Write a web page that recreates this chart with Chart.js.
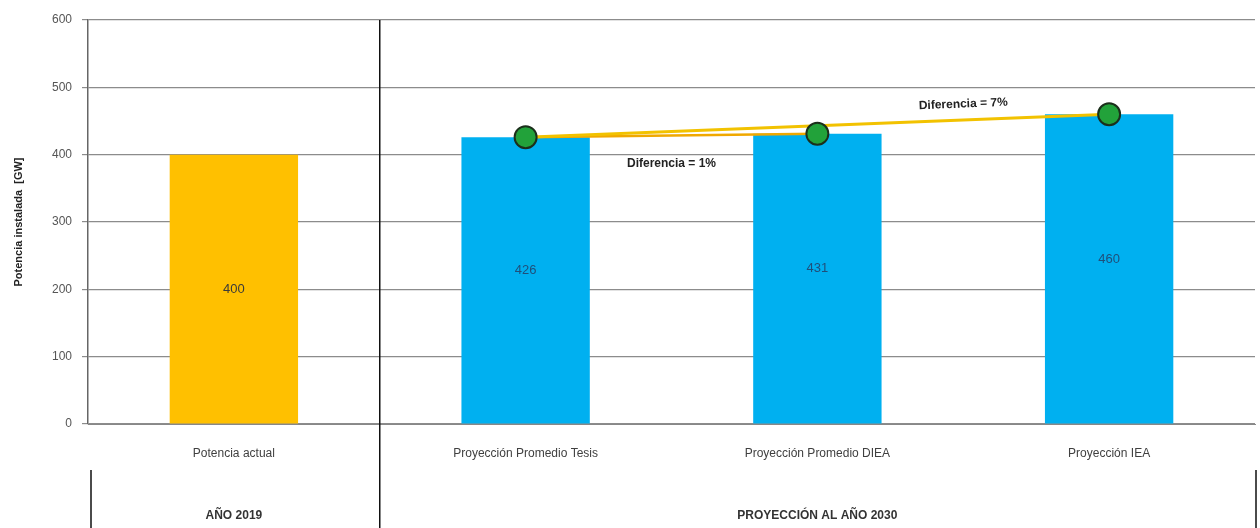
<!DOCTYPE html>
<html>
<head>
<meta charset="utf-8">
<script src="https://cdn.jsdelivr.net/npm/chart.js@4.4.1/dist/chart.umd.min.js"></script>
<style>
  html, body { margin: 0; padding: 0; background: #fff; }
  #wrap { width: 1260px; height: 528px; }
</style>
</head>
<body>
<div id="wrap"><canvas id="myChart" width="1260" height="528"></canvas></div>
<script>
Chart.defaults.font.family = "'Liberation Sans', Arial, sans-serif";
Chart.defaults.font.size = 12;
Chart.defaults.color = '#404040';

// data
const categories = ['Potencia actual', 'Proyección Promedio Tesis', 'Proyección Promedio DIEA', 'Proyección IEA'];
const potencia = [400, 426, 431, 460];
const puntos = [null, 426, 431, 460];
const lineaTesisIEA = [null, 426, null, 460];
const lineaTesisDIEA = [null, 426, 431, null];
const groups = ['AÑO 2019', 'PROYECCIÓN AL AÑO 2030'];
const yTicks = [0, 100, 200, 300, 400, 500, 600];
const diferencias = ['Diferencia = 1%', 'Diferencia = 7%'];

const barColors = ['#FFC000', '#00B0F0', '#00B0F0', '#00B0F0'];

// labels in the middle of bars, group labels, separators, notes
const extras = {
  id: 'extras',
  afterDatasetsDraw(chart) {
    const ctx = chart.ctx;
    const x = chart.scales.x, y = chart.scales.y;
    const area = chart.chartArea;
    ctx.save();
    // value labels
    ctx.font = "13px 'Liberation Sans', Arial";
    ctx.textAlign = 'center';
    ctx.textBaseline = 'middle';
    potencia.forEach((v, i) => {
      ctx.fillStyle = i === 0 ? '#3a3a3a' : '#1f4f7a';
      ctx.fillText(String(v), x.getPixelForValue(i), y.getPixelForValue(v / 2) - (i === 0 ? 0 : 10));
    });
    // differences
    ctx.font = "bold 12px 'Liberation Sans', Arial";
    ctx.fillStyle = '#222';
    ctx.fillText(diferencias[0], (x.getPixelForValue(1) + x.getPixelForValue(2)) / 2, y.getPixelForValue(386));
    ctx.save();
    ctx.translate(x.getPixelForValue(2.5), y.getPixelForValue(475));
    ctx.rotate(-0.04);
    ctx.fillText(diferencias[1], 0, 0);
    ctx.restore();

    // separators
    const sep = (x.getPixelForValue(0) + x.getPixelForValue(1)) / 2;
    ctx.strokeStyle = '#111';
    ctx.lineWidth = 1.5;
    ctx.beginPath();
    ctx.moveTo(sep, area.top);
    ctx.lineTo(sep, chart.height);
    ctx.moveTo(area.left + 3, chart.height - 58);
    ctx.lineTo(area.left + 3, chart.height);
    ctx.moveTo(chart.width - 4, chart.height - 58);
    ctx.lineTo(chart.width - 4, chart.height);
    ctx.stroke();

    // group labels
    ctx.font = "bold 12px 'Liberation Sans', Arial";
    ctx.fillStyle = '#333';
    ctx.fillText(groups[0], x.getPixelForValue(0), chart.height - 12);
    ctx.fillText(groups[1], x.getPixelForValue(2), chart.height - 12);
    ctx.restore();
  }
};

const data = {
  labels: categories,
  datasets: [
    {
      type: 'line',
      label: 'Tesis - IEA',
      data: lineaTesisIEA,
      borderColor: '#F2C200',
      borderWidth: 3,
      pointRadius: 0,
      spanGaps: true,
      order: 2
    },
    {
      type: 'line',
      label: 'Tesis - DIEA',
      data: lineaTesisDIEA,
      borderColor: '#F0A800',
      borderWidth: 2.5,
      pointRadius: 0,
      order: 2
    },
    {
      type: 'line',
      label: 'Proyecciones',
      data: puntos,
      showLine: false,
      pointRadius: 11,
      pointBackgroundColor: '#22A23A',
      pointBorderColor: '#1b2f1b',
      pointBorderWidth: 2,
      order: 1
    },
    {
      type: 'bar',
      label: 'Potencia instalada',
      data: potencia,
      backgroundColor: barColors,
      categoryPercentage: 1,
      barPercentage: 0.44,
      order: 3
    }
  ]
};

// config
const config = {
  data,
  options: {
    responsive: false,
    animation: false,
    layout: { autoPadding: false, padding: { top: 20, right: 5, left: 0, bottom: 0 } },
    plugins: { legend: { display: false }, tooltip: { enabled: false } },
    scales: {
      x: {
        grid: { display: false, drawTicks: false },
        border: { color: '#888' },
        ticks: { padding: 22, color: '#404040', font: { size: 12 } },
        afterFit(scale) { scale.height = 104; }
      },
      y: {
        min: 0,
        max: 600,
        afterBuildTicks(scale) { scale.ticks = yTicks.map(v => ({ value: v })); },
        grid: { color: '#8c8c8c', lineWidth: 1.2, drawTicks: true, tickLength: 6 },
        border: { color: '#666', width: 1.5 },
        ticks: { color: '#555', padding: 10, font: { size: 12 } },
        title: {
          display: true,
          text: 'Potencia instalada  [GW]',
          color: '#222',
          font: { size: 11, weight: 'bold' },
          padding: { top: 12, bottom: 6 }
        },
        afterFit(scale) { scale.width = 88; }
      }
    }
  },
  plugins: [extras]
};

// render init block
const myChart = new Chart(document.getElementById('myChart'), config);
</script>
</body>
</html>
